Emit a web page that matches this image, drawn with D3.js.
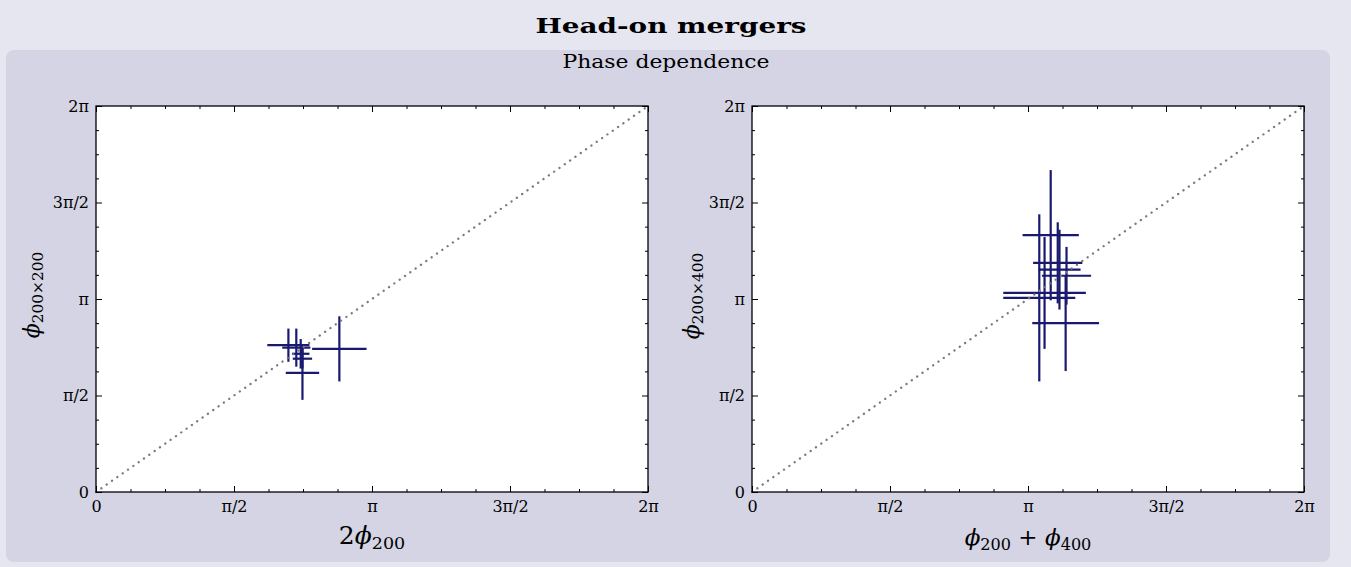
<!DOCTYPE html>
<html>
<head>
<meta charset="utf-8">
<script src="https://cdn.jsdelivr.net/npm/d3@7"></script>
<style>
  body { margin: 0; background: #e6e6f0; }
  svg { display: block; font-family: "DejaVu Serif", serif; }
</style>
</head>
<body>
<svg id="chart" width="1351" height="567"></svg>
<script>
// phase values in radians
const left2phi200      = [2.77, 2.19, 2.28, 2.33, 2.35, 2.35];
const left2phi200Err   = [0.31, 0.24, 0.16, 0.10, 0.11, 0.19];
const leftPhi200x200   = [2.33, 2.39, 2.35, 2.25, 2.17, 1.94];
const leftPhi200x200Err= [0.53, 0.27, 0.31, 0.24, 0.16, 0.44];

const rightSum         = [3.40, 3.48, 3.50, 3.58, 3.57, 3.33, 3.27];
const rightSumErr      = [0.32, 0.28, 0.24, 0.28, 0.38, 0.47, 0.41];
const rightPhi200x400  = [4.18, 3.73, 3.62, 3.52, 2.75, 3.24, 3.16];
const rightPhi200x400Err = [1.06, 0.66, 0.65, 0.47, 0.78, 0.91, 1.36];

const majorTicks  = [0, Math.PI / 2, Math.PI, 3 * Math.PI / 2, 2 * Math.PI];
const majorLabels = ["0", "π/2", "π", "3π/2", "2π"];
const minorTicks  = d3.range(17).filter(k => k % 4).map(k => k * Math.PI / 8);

const svg = d3.select("#chart");
const W = 552, H = 386, top0 = 106;

// backgrounds
svg.append("rect").attr("width", 1351).attr("height", 567).attr("fill", "#e6e6f0");
svg.append("rect").attr("x", 6).attr("y", 50).attr("width", 1324).attr("height", 512)
  .attr("rx", 8).attr("fill", "#d4d4e4");

svg.append("text").attr("x", 671).attr("y", 33).attr("text-anchor", "middle")
  .attr("font-size", 20).attr("font-weight", "bold")
  .attr("textLength", 271).attr("lengthAdjust", "spacingAndGlyphs")
  .text("Head-on mergers");
svg.append("text").attr("x", 666).attr("y", 68).attr("text-anchor", "middle")
  .attr("font-size", 19).attr("textLength", 207).attr("lengthAdjust", "spacingAndGlyphs")
  .text("Phase dependence");

// text with italic phi and subscripts
function mathText(sel, parts, size) {
  let shifted = false;
  parts.forEach(p => {
    const t = sel.append("tspan").text(p.t);
    if (p.i) t.attr("font-style", "italic");
    if (p.sub) {
      t.attr("font-size", size * 0.7);
      if (!shifted) { t.attr("dy", size * 0.2); shifted = true; }
    } else if (shifted) {
      t.attr("dy", -size * 0.2); shifted = false;
    }
  });
}

function drawPanel(left, xs, xe, ys, ye, xParts, yParts, xLab, yLab) {
  const g = svg.append("g").attr("transform", `translate(${left},${top0})`);
  const x = d3.scaleLinear().domain([0, 2 * Math.PI]).range([0, W]);
  const y = d3.scaleLinear().domain([0, 2 * Math.PI]).range([H, 0]);

  g.append("rect").attr("width", W).attr("height", H).attr("fill", "#fff");

  // error bars
  const pts = xs.map((v, i) => ({ x: v, xe: xe[i], y: ys[i], ye: ye[i] }));
  const bars = g.append("g").attr("stroke", "#191970").attr("stroke-width", 2.2);
  bars.selectAll(".h").data(pts).join("line").attr("class", "h")
    .attr("x1", d => x(d.x - d.xe)).attr("x2", d => x(d.x + d.xe))
    .attr("y1", d => y(d.y)).attr("y2", d => y(d.y));
  bars.selectAll(".v").data(pts).join("line").attr("class", "v")
    .attr("x1", d => x(d.x)).attr("x2", d => x(d.x))
    .attr("y1", d => y(d.y - d.ye)).attr("y2", d => y(d.y + d.ye));

  // y = x reference
  g.append("line")
    .attr("x1", x(0)).attr("y1", y(0)).attr("x2", x(2 * Math.PI)).attr("y2", y(2 * Math.PI))
    .attr("stroke", "#7a7a7a").attr("stroke-width", 2.3)
    .attr("stroke-dasharray", "0.1,6.4").attr("stroke-linecap", "round");

  // ticks on all four sides, pointing inward
  const axes = [
    [d3.axisBottom(x), `translate(0,${H})`, true],
    [d3.axisTop(x), null, false],
    [d3.axisLeft(y), null, true],
    [d3.axisRight(y), `translate(${W},0)`, false]
  ];
  axes.forEach(([ax, tr, labelled]) => {
    const isX = ax.scale() === x;
    const maj = g.append("g").attr("transform", tr)
      .call(ax.tickValues(majorTicks).tickSizeInner(-6).tickSizeOuter(0)
        .tickPadding(isX ? 9 : 7)
        .tickFormat((d, i) => labelled ? majorLabels[i] : ""));
    maj.select(".domain").remove();
    maj.selectAll("text").attr("font-size", 16).attr("font-family", "DejaVu Serif");
    const mnr = g.append("g").attr("transform", tr)
      .call(ax.tickValues(minorTicks).tickSizeInner(-3).tickFormat(""));
    mnr.select(".domain").remove();
  });

  g.append("rect").attr("width", W).attr("height", H)
    .attr("fill", "none").attr("stroke", "#000").attr("stroke-width", 1.3);

  mathText(svg.append("text").attr("x", xLab[0]).attr("y", xLab[1])
    .attr("text-anchor", "middle").attr("font-size", xLab[2]), xParts, xLab[2]);
  mathText(svg.append("text").attr("transform", `translate(${yLab[0]},${yLab[1]}) rotate(-90)`)
    .attr("text-anchor", "middle").attr("font-size", 22), yParts, 22);
}

drawPanel(96, left2phi200, left2phi200Err, leftPhi200x200, leftPhi200x200Err,
  [{ t: "2" }, { t: "ϕ", i: true }, { t: "200", sub: true }],
  [{ t: "ϕ", i: true }, { t: "200×200", sub: true }],
  [372, 544, 25], [39, 295]);

drawPanel(752, rightSum, rightSumErr, rightPhi200x400, rightPhi200x400Err,
  [{ t: "ϕ", i: true }, { t: "200", sub: true }, { t: " + " }, { t: "ϕ", i: true }, { t: "400", sub: true }],
  [{ t: "ϕ", i: true }, { t: "200×400", sub: true }],
  [1028, 545, 23], [699, 296]);
</script>
</body>
</html>
